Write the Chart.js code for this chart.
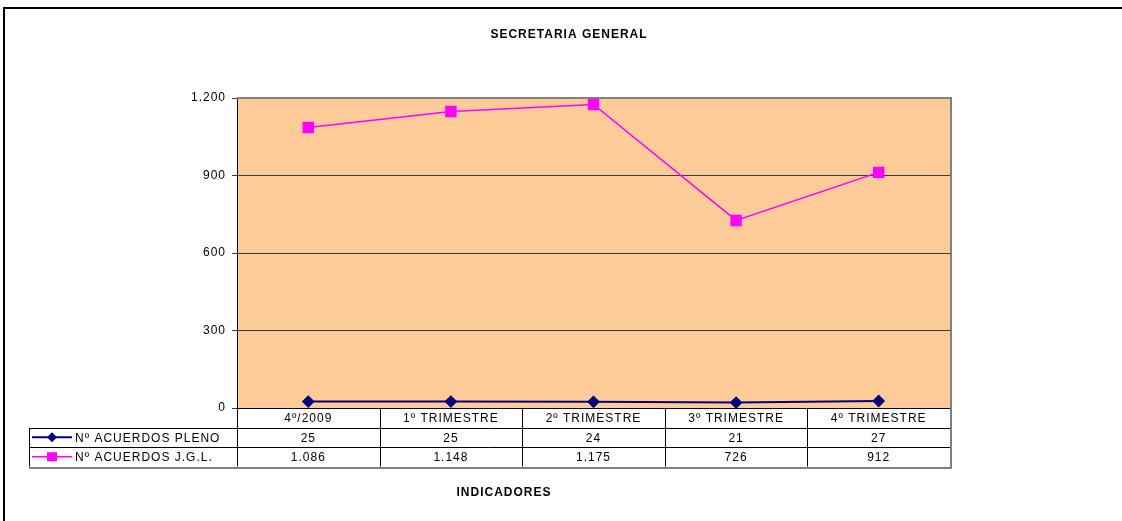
<!DOCTYPE html>
<html>
<head>
<meta charset="utf-8">
<title>SECRETARIA GENERAL</title>
<script src="https://cdn.jsdelivr.net/npm/chart.js@4.4.0/dist/chart.umd.min.js"></script>
<style>
    html, body { margin: 0; padding: 0; background: #ffffff; }
    #cont { width: 1122px; height: 521px; }
</style>
</head>
<body>
<div id="cont"><canvas id="canvasGraph"></canvas></div>
<script>
// Données du graphique
var trimestres = ['4º/2009', '1º TRIMESTRE', '2º TRIMESTRE', '3º TRIMESTRE', '4º TRIMESTRE'];
var acuerdosPleno = [25, 25, 24, 21, 27];
var acuerdosJGL = [1086, 1148, 1175, 726, 912];
var nomsSeries = ['Nº ACUERDOS PLENO', 'Nº ACUERDOS J.G.L.'];
var ticksY = [0, 300, 600, 900, 1200];

var police = '"Liberation Sans", Arial, sans-serif';

// format 1.200
function FormatNombre(v)
{
    return String(v).replace(/\B(?=(\d{3})+(?!\d))/g, '.');
}

// le texte de l'original est un peu étiré : on espace les lettres
var espacePlugin = {
    id: 'espace',
    beforeLayout: function(chart) { chart.ctx.letterSpacing = '1px'; },
    beforeDraw: function(chart) { chart.ctx.letterSpacing = '1px'; }
};

// fond orange de la zone de tracé
var fondPlugin = {
    id: 'fond',
    beforeDraw: function(chart)
    {
        var a = chart.chartArea;
        var ctx = chart.ctx;
        ctx.save();
        ctx.fillStyle = '#FFCC99';
        ctx.fillRect(a.left, a.top, a.right - a.left, a.bottom - a.top);
        ctx.restore();
    }
};

// table de données sous le graphique + légende + cadre
var tablePlugin = {
    id: 'table',
    afterDraw: function(chart)
    {
        var a = chart.chartArea;
        var ctx = chart.ctx;
        var sx = chart.scales.x;
        var largeur = (a.right - a.left) / trimestres.length;
        var hLigne = 19.5;
        var yHaut = a.bottom;
        var y1 = yHaut + hLigne;
        var y2 = y1 + hLigne;
        var y3 = y2 + hLigne;
        var xLeg = 29;

        ctx.save();

        // bord de la zone de tracé
        ctx.strokeStyle = '#808080';
        ctx.lineWidth = 2;
        ctx.beginPath();
        ctx.moveTo(a.left, a.top);
        ctx.lineTo(a.right + 1, a.top);
        ctx.lineTo(a.right + 1, a.bottom);
        ctx.stroke();

        // lignes de la table
        ctx.strokeStyle = '#000000';
        ctx.lineWidth = 1;
        ctx.beginPath();
        ctx.moveTo(a.left, yHaut + 0.5); ctx.lineTo(a.right, yHaut + 0.5);
        ctx.moveTo(xLeg, Math.round(y1) + 0.5); ctx.lineTo(a.right, Math.round(y1) + 0.5);
        ctx.moveTo(xLeg, Math.round(y2) + 0.5); ctx.lineTo(a.right, Math.round(y2) + 0.5);
        for(var i = 0; i <= trimestres.length; i++)
        {
            var xb = Math.round(a.left + i * largeur) + 0.5;
            ctx.moveTo(xb, yHaut); ctx.lineTo(xb, y3);
        }
        ctx.moveTo(xLeg + 0.5, Math.round(y1)); ctx.lineTo(xLeg + 0.5, y3);
        ctx.stroke();

        ctx.strokeStyle = '#808080';
        ctx.lineWidth = 2;
        ctx.beginPath();
        ctx.moveTo(xLeg, Math.round(y3) + 1); ctx.lineTo(a.right + 1, Math.round(y3) + 1);
        ctx.lineTo(a.right + 1, yHaut);
        ctx.stroke();

        // valeurs
        ctx.fillStyle = '#000000';
        ctx.font = '12px ' + police;
        ctx.textAlign = 'center';
        ctx.textBaseline = 'middle';
        for(var j = 0; j < trimestres.length; j++)
        {
            var xc = sx.getPixelForValue(j);
            ctx.fillText(FormatNombre(acuerdosPleno[j]), xc, (y1 + y2) / 2 + 1);
            ctx.fillText(FormatNombre(acuerdosJGL[j]), xc, (y2 + y3) / 2 + 1);
        }

        // clés de légende
        var series = chart.data.datasets;
        var lignes = [(y1 + y2) / 2, (y2 + y3) / 2];
        for(var k = 0; k < series.length; k++)
        {
            var yl = lignes[k];
            ctx.strokeStyle = series[k].borderColor;
            ctx.lineWidth = series[k].borderWidth;
            ctx.beginPath();
            ctx.moveTo(32, yl); ctx.lineTo(72, yl);
            ctx.stroke();
            ctx.fillStyle = series[k].pointBackgroundColor;
            ctx.beginPath();
            if(series[k].pointStyle === 'rect')
            {
                ctx.rect(47, yl - 4.5, 10, 9);
            }
            else
            {
                ctx.moveTo(52, yl - 5); ctx.lineTo(57, yl); ctx.lineTo(52, yl + 5); ctx.lineTo(47, yl);
                ctx.closePath();
            }
            ctx.fill();
            ctx.fillStyle = '#000000';
            ctx.textAlign = 'left';
            ctx.fillText(nomsSeries[k], 75, yl + 1);
        }

        // titre de l'axe
        ctx.font = 'bold 12px ' + police;
        ctx.textAlign = 'center';
        ctx.fillText('INDICADORES', 504, 493);

        // cadre extérieur
        ctx.strokeStyle = '#000000';
        ctx.lineWidth = 2;
        ctx.beginPath();
        ctx.moveTo(4, 521);
        ctx.lineTo(4, 8);
        ctx.lineTo(1122, 8);
        ctx.stroke();

        ctx.restore();
    }
};

function DessinerGraph()
{
    var chartdata = {
        labels: trimestres,
        datasets: [
            {
                label: nomsSeries[0],
                data: acuerdosPleno,
                borderColor: '#000080',
                backgroundColor: '#000080',
                pointBackgroundColor: '#000080',
                pointBorderColor: '#000080',
                pointStyle: 'rectRot',
                pointRadius: 5,
                borderWidth: 2,
                tension: 0
            },
            {
                label: nomsSeries[1],
                data: acuerdosJGL,
                borderColor: '#FF00FF',
                backgroundColor: '#FF00FF',
                pointBackgroundColor: '#FF00FF',
                pointBorderColor: '#FF00FF',
                pointStyle: 'rect',
                pointRadius: 7,
                borderWidth: 1.5,
                tension: 0
            }
        ]
    };

    new Chart(document.getElementById('canvasGraph'), {
        type: 'line',
        data: chartdata,
        plugins: [espacePlugin, fondPlugin, tablePlugin],
        options: {
            responsive: true,
            maintainAspectRatio: false,
            animation: false,
            layout: { padding: { left: 188, right: 172, top: 0, bottom: 0 } },
            plugins: {
                legend: { display: false },
                tooltip: { enabled: false },
                title: {
                    display: true,
                    text: 'SECRETARIA GENERAL',
                    color: '#000000',
                    font: { family: police, size: 12, weight: 'bold' },
                    padding: { top: 27, bottom: 56.6 }
                }
            },
            scales: {
                x: {
                    offset: true,
                    grid: { display: false, drawTicks: false },
                    border: { display: false },
                    ticks: {
                        color: '#000000',
                        font: { family: police, size: 12 },
                        padding: 3,
                        maxRotation: 0,
                        autoSkip: false
                    },
                    afterFit: function(s) { s.height = 113; }
                },
                y: {
                    min: 0,
                    max: 1200,
                    afterBuildTicks: function(s) { s.ticks = ticksY.map(function(v) { return { value: v }; }); },
                    grid: { color: '#3c3c3c', lineWidth: 1, tickLength: 5 },
                    border: { color: '#000000', width: 1 },
                    ticks: {
                        color: '#000000',
                        font: { family: police, size: 12 },
                        padding: 6,
                        callback: function(v) { return FormatNombre(v); }
                    },
                    afterFit: function(s) { s.width = 49; }
                }
            }
        }
    });
}

DessinerGraph();
</script>
</body>
</html>
